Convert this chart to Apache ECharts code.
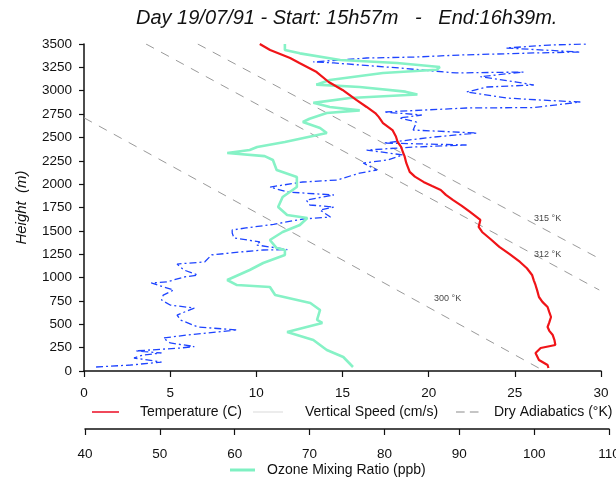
<!DOCTYPE html>
<html>
<head>
<meta charset="utf-8">
<script src="https://cdn.jsdelivr.net/npm/echarts@6/dist/echarts.min.js"></script>
<style>
  html, body { margin: 0; padding: 0; background: #fff; }
  #chart { width: 616px; height: 481px; }
</style>
</head>
<body>
<div id="chart"></div>
<script>
// temperature profile (height m, temp C)
const tempHeight = [32, 64, 118, 193, 246, 278, 330, 385, 430, 471, 520, 578, 630, 685, 740, 792, 860, 921, 970, 1028, 1100, 1167, 1250, 1328, 1410, 1488, 1542, 1617, 1660, 1702, 1770, 1831, 1885, 1938, 1980, 2024, 2080, 2131, 2180, 2227, 2300, 2344, 2400, 2451, 2510, 2579, 2654, 2720, 2761, 2826, 2901, 3008, 3093, 3200, 3297, 3350, 3436, 3500];
const tempValue = [26.95, 26.9, 26.4, 26.2, 26.5, 27.35, 27.3, 27.2, 27.0, 26.9, 27.0, 27.1, 27.0, 26.9, 26.6, 26.4, 26.3, 26.2, 26.1, 26.0, 25.7, 25.3, 24.7, 24.1, 23.6, 23.1, 22.9, 23.0, 22.7, 22.4, 21.9, 21.4, 21.0, 20.7, 20.2, 19.7, 19.2, 18.9, 18.8, 18.7, 18.6, 18.5, 18.4, 18.2, 18.1, 17.9, 17.35, 17.1, 16.9, 16.4, 15.8, 15.0, 14.2, 13.5, 12.5, 11.96, 10.8, 10.2];

// vertical speed (height m, cm/s)
const speedHeight = [43, 64, 96, 139, 170, 193, 215, 246, 262, 300, 353, 385, 439, 471, 546, 599, 674, 706, 760, 813, 867, 942, 953, 1006, 1027, 1081, 1145, 1167, 1242, 1274, 1295, 1300, 1349, 1381, 1424, 1477, 1509, 1531, 1570, 1627, 1648, 1723, 1755, 1777, 1830, 1884, 1916, 1969, 2023, 2044, 2119, 2151, 2226, 2258, 2312, 2333, 2365, 2397, 2419, 2440, 2504, 2547, 2579, 2665, 2708, 2740, 2772, 2815, 2820, 2879, 2900, 2922, 2986, 3040, 3061, 3093, 3150, 3200, 3190, 3243, 3297, 3308, 3350, 3361, 3382, 3404, 3414, 3457, 3489, 3500];
const speedValue = [0.7, 2.7, 4.5, 2.9, 3.4, 4.5, 3.0, 5.6, 6.4, 5.0, 4.6, 6.0, 8.9, 6.6, 5.6, 5.4, 6.4, 5.0, 4.5, 4.6, 5.2, 3.9, 4.8, 5.8, 6.6, 5.8, 5.4, 7.0, 7.4, 9.1, 10.4, 11.8, 10.0, 10.2, 8.7, 8.6, 8.6, 9.4, 11.0, 12.7, 14.3, 13.7, 14.5, 13.1, 12.9, 14.5, 11.8, 10.8, 12.7, 14.7, 16.0, 17.0, 16.2, 17.6, 18.5, 18.4, 16.4, 19.1, 22.2, 17.4, 20.3, 22.8, 19.1, 19.3, 18.3, 19.6, 17.4, 22.2, 26.1, 28.8, 26.5, 24.5, 22.2, 23.4, 26.1, 25.1, 23.0, 25.5, 21.6, 18.3, 14.5, 13.3, 16.4, 19.3, 21.8, 26.1, 28.8, 24.5, 27.0, 29.2];

// ozone mixing ratio (height m, ppb)
const ozoneHeight = [43, 150, 225, 332, 417, 514, 546, 653, 728, 813, 899, 920, 974, 1081, 1156, 1242, 1295, 1316, 1402, 1488, 1563, 1638, 1670, 1755, 1862, 1969, 2076, 2151, 2258, 2300, 2333, 2365, 2397, 2451, 2547, 2601, 2665, 2700, 2761, 2790, 2826, 2870, 2922, 2960, 2990, 3040, 3065, 3115, 3190, 3225, 3254, 3297, 3329, 3400, 3436, 3500];
const ozoneValue = [75.8, 74.5, 72.3, 70.5, 67.0, 71.7, 71.0, 71.4, 70.1, 65.4, 64.7, 60.3, 59.0, 62.0, 63.8, 66.7, 66.7, 65.6, 64.7, 66.4, 68.7, 69.7, 67.0, 65.8, 66.4, 68.3, 68.3, 65.6, 65.1, 64.0, 59.0, 62.0, 63.0, 66.7, 72.3, 71.4, 69.1, 70.0, 72.3, 76.7, 72.7, 70.5, 75.4, 84.4, 82.8, 76.7, 70.9, 72.7, 79.8, 87.0, 87.4, 81.7, 74.1, 68.7, 66.7, 66.7];

// dry adiabats: end points (temp C, height m)
const adiabatNames = ["300 °K", "312 °K", "315 °K"];
const adiabatTemp = [[0, 26.7], [3.6, 29.9], [6.6, 29.95]];
const adiabatHeight = [[2710, 0], [3500, 867], [3500, 1199]];
const adiabatLabelAt = [[21.1, 771], [26.9, 1252], [26.9, 1627]];

const heightTicks = { min: 0, max: 3500, step: 250 };
const tempTicks = { min: 0, max: 30, step: 5 };
const ozoneTicks = { min: 40, max: 110, step: 10 };

const zip = (xs, ys) => xs.map((x, i) => [x, ys[i]]);
const FONT = "Liberation Sans, Arial, sans-serif";

const chart = echarts.init(document.getElementById("chart"), null, { renderer: "canvas" });

const adiabatSeries = adiabatTemp.map((t, i) => ({
  name: "Dry Adiabatics (°K)",
  type: "line",
  xAxisIndex: 0,
  yAxisIndex: 0,
  symbol: "none",
  silent: true,
  z: 1,
  lineStyle: { color: "#9a9a9a", width: 1, type: [9, 8] },
  itemStyle: { color: "#9a9a9a" },
  data: zip(t, adiabatHeight[i]),
}));

const legendText = (pad) => ({ fontFamily: FONT, fontSize: 14, color: "#111", padding: [0, 0, 0, pad] });
const legendBase = { orient: "horizontal", padding: 0, selectedMode: false };

const option = {
  backgroundColor: "#fff",
  animation: false,
  title: {
    text: "Day 19/07/91 - Start: 15h57m   -   End:16h39m.",
    left: 131,
    top: 3,
    textStyle: { fontFamily: FONT, fontSize: 20, fontStyle: "italic", fontWeight: "normal", color: "#111" },
  },
  legend: [
    Object.assign({}, legendBase, {
      left: 92, top: 405, data: ["Temperature (C)"],
      icon: "rect", itemWidth: 27, itemHeight: 2,
      itemStyle: { color: "#f0485a" },
      textStyle: legendText(16),
    }),
    Object.assign({}, legendBase, {
      left: 253, top: 405, data: ["Vertical Speed (cm/s)"],
      icon: "rect", itemWidth: 30, itemHeight: 1,
      itemStyle: { color: "#d8d8d8" },
      textStyle: legendText(17),
    }),
    Object.assign({}, legendBase, {
      left: 456, top: 405, data: ["Dry Adiabatics (°K)"],
      icon: "path://M0,0h10v1h-10z M16,0h10v1h-10z M30,0h0.01v1h-0.01z", itemWidth: 26, itemHeight: 1.2,
      itemStyle: { color: "#8c8c8c" },
      textStyle: legendText(7),
    }),
    Object.assign({}, legendBase, {
      left: 230, top: 463, data: ["Ozone Mixing Ratio (ppb)"],
      icon: "rect", itemWidth: 25, itemHeight: 3,
      itemStyle: { color: "#7ff0c2" },
      textStyle: legendText(7),
    }),
  ],
  grid: [
    { left: 84, right: 15, top: 44, bottom: 110, outerBoundsMode: "none" },
    { left: 85, right: 7, top: 428, height: 1, outerBoundsMode: "none" },
  ],
  xAxis: [
    {
      gridIndex: 0,
      type: "value",
      min: tempTicks.min,
      max: tempTicks.max,
      interval: tempTicks.step,
      splitLine: { show: false },
      axisLine: { onZero: false, lineStyle: { color: "#111", width: 1.5 } },
      axisTick: { show: true, inside: false, length: 6, lineStyle: { color: "#111", width: 1.2 } },
      axisLabel: { fontFamily: FONT, fontSize: 13.5, color: "#111", margin: 15 },
    },
    {
      gridIndex: 0,
      type: "value",
      show: false,
      min: 40 - 1 / 7.486,
      max: 40 + 516 / 7.486,
    },
    {
      gridIndex: 1,
      type: "value",
      position: "bottom",
      min: ozoneTicks.min,
      max: ozoneTicks.max,
      interval: ozoneTicks.step,
      splitLine: { show: false },
      axisLine: { onZero: false, lineStyle: { color: "#111", width: 1.5 } },
      axisTick: { show: true, inside: false, length: 6, lineStyle: { color: "#111", width: 1.2 } },
      axisLabel: { fontFamily: FONT, fontSize: 13.5, color: "#111", margin: 18 },
    },
  ],
  yAxis: [
    {
      gridIndex: 0,
      type: "value",
      min: heightTicks.min,
      max: heightTicks.max,
      interval: heightTicks.step,
      name: "Height  (m)",
      nameLocation: "middle",
      nameGap: 55,
      nameTextStyle: { fontFamily: FONT, fontSize: 15, fontStyle: "italic", color: "#111" },
      splitLine: { show: false },
      axisLine: { show: true, onZero: false, lineStyle: { color: "#111", width: 1.5 } },
      axisTick: { show: true, inside: false, length: 5, lineStyle: { color: "#111", width: 1.2 } },
      axisLabel: { fontFamily: FONT, fontSize: 13.5, color: "#111", margin: 12, formatter: (v) => String(v) },
    },
    { gridIndex: 1, type: "value", show: false },
  ],
  series: [
    ...adiabatSeries,
    {
      name: "adiabat labels",
      type: "scatter",
      xAxisIndex: 0,
      yAxisIndex: 0,
      symbolSize: 0,
      silent: true,
      z: 2,
      label: {
        show: true,
        position: "inside",
        fontFamily: FONT,
        fontSize: 9,
        color: "#111",
        formatter: (p) => adiabatNames[p.dataIndex],
      },
      data: adiabatLabelAt,
    },
    {
      name: "Vertical Speed (cm/s)",
      type: "line",
      xAxisIndex: 0,
      yAxisIndex: 0,
      symbol: "none",
      z: 3,
      lineStyle: { color: "#1e44ff", width: 1.3, type: [7, 3, 2, 3] },
      itemStyle: { color: "#1e44ff" },
      data: zip(speedValue, speedHeight),
    },
    {
      name: "Ozone Mixing Ratio (ppb)",
      type: "line",
      xAxisIndex: 1,
      yAxisIndex: 0,
      symbol: "none",
      z: 4,
      lineStyle: { color: "#86f2c6", width: 2.6 },
      itemStyle: { color: "#86f2c6" },
      data: zip(ozoneValue, ozoneHeight),
    },
    {
      name: "Temperature (C)",
      type: "line",
      xAxisIndex: 0,
      yAxisIndex: 0,
      symbol: "none",
      z: 5,
      lineStyle: { color: "#f01418", width: 2.2 },
      itemStyle: { color: "#f01418" },
      data: zip(tempValue, tempHeight),
    },
  ],
};

chart.setOption(option);
</script>
</body>
</html>
